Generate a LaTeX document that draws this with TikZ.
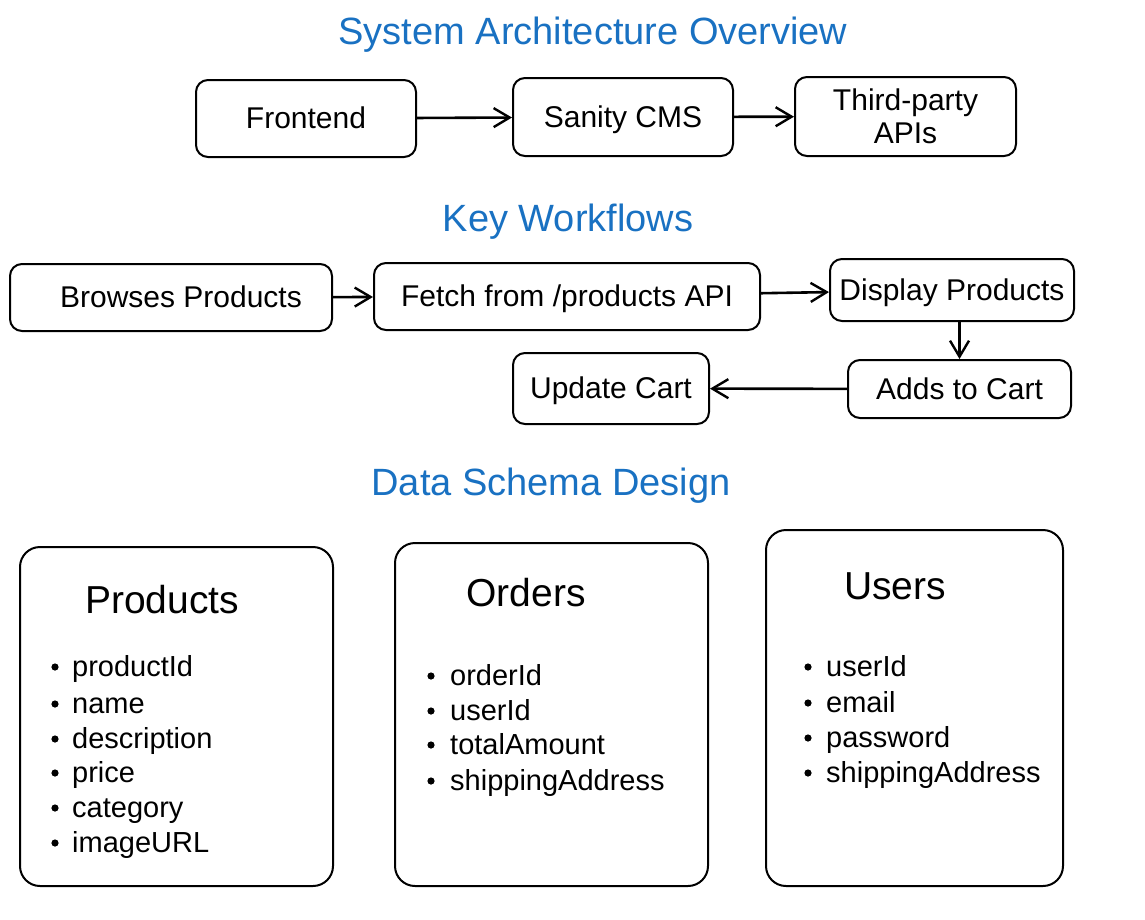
\documentclass[tikz,border=0pt]{standalone}
\usepackage{fontspec}
\setmainfont{Liberation Sans}
\usetikzlibrary{arrows.meta}
\definecolor{titleblue}{HTML}{1971C2}
\tikzset{
  txt/.style={text height=21.6pt, text depth=1.5pt},
  box/.style={draw=black, line width=2pt, rounded corners=12pt, inner sep=0pt, align=center, font=\fontsize{30}{33}\selectfont},
  tablebox/.style={draw=black, line width=2pt, rounded corners=20pt},
  heading/.style={text height=27.4pt, text depth=2pt, text=titleblue, inner sep=0pt, font=\fontsize{38}{42}\selectfont},
  tabletitle/.style={text height=28pt, text depth=2pt, inner sep=0pt, font=\fontsize{39}{42}\selectfont},
  item/.style={text height=20.8pt, text depth=1.5pt, anchor=west, inner sep=0pt, font=\fontsize{29}{32}\selectfont},
  flow/.style={line width=2.6pt, -{Straight Barb[length=16pt,width=19pt,line width=2.4pt]}},
}
\newcommand{\bul}[1]{\fill #1 circle (3.6pt);}
\begin{document}
\begin{tikzpicture}[x=1pt,y=-1pt]
\useasboundingbox (0,0) rectangle (1145,919);

% headings
\node[heading] (h1) at (593,32) {System Architecture Overview};
\node[heading] (h2) at (568,219) {Key Workflows};
\node[heading] (h3) at (551,483) {Data Schema Design};

% architecture
\node[box, txt, minimum width=220pt, minimum height=77pt] (fe) at (306,118.5) {Frontend};
\node[box, txt, minimum width=220pt, minimum height=78pt] (cms) at (623,117) {Sanity CMS};
\node[box, minimum width=221pt, minimum height=79pt] (api) at (905.5,116.5) {Third-party\\APIs};
\draw[flow] (fe) -- (cms);
\draw[flow] (cms) -- (api);

% workflows
\node[box, txt, minimum width=322pt, minimum height=67pt] (br) at (171,297.5) {\hspace*{20pt}Browses Products};
\node[box, txt, minimum width=386pt, minimum height=67pt] (fe2) at (567,296.5) {Fetch from /products API};
\node[box, txt, minimum width=244pt, minimum height=62pt] (dp) at (952,290) {Display Products};
\node[box, txt, minimum width=223pt, minimum height=58pt] (ac) at (959.5,389) {Adds to Cart};
\node[box, txt, minimum width=196pt, minimum height=71pt] (uc) at (611,388.5) {Update Cart};
\draw[flow] (br) -- (fe2);
\draw[flow] (fe2) -- (dp);
\draw[flow] (dp.south -| ac.north) -- (ac.north);
\draw[flow] (ac) -- (uc);

% schema tables
\draw[tablebox] (20,547) rectangle (333,886);
\draw[tablebox] (395,543) rectangle (708,886);
\draw[tablebox] (766,530) rectangle (1063,886);

\node[tabletitle] (tp) at (162,600) {Products};
\node[tabletitle] (to) at (526,593) {Orders};
\node[tabletitle] (tu) at (895,586) {Users};

\foreach \t/\y [count=\i] in {productId/667, name/704, description/739, price/773, category/808, imageURL/843}{
  \bul{(55,\y)}
  \node[item] (p\i) at (72,\y) {\t};
}
\foreach \t/\y [count=\i] in {orderId/676, userId/711, totalAmount/745, shippingAddress/781}{
  \bul{(431,\y)}
  \node[item] (o\i) at (450,\y) {\t};
}
\foreach \t/\y [count=\i] in {userId/667, email/703, password/738, shippingAddress/773}{
  \bul{(808,\y)}
  \node[item] (u\i) at (826,\y) {\t};
}
\end{tikzpicture}
\end{document}
